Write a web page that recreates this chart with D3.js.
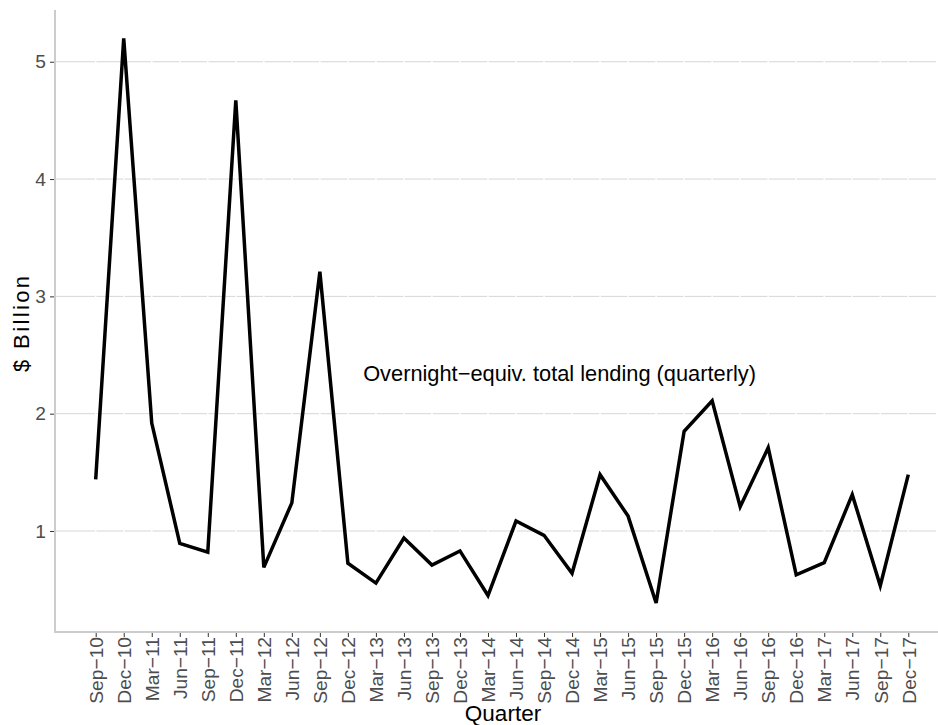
<!DOCTYPE html>
<html>
<head>
<meta charset="utf-8">
<script src="https://cdnjs.cloudflare.com/ajax/libs/d3/7.8.5/d3.min.js"></script>
<style>
  body { margin: 0; background: #fff; }
  text { font-family: "Liberation Sans", Arial, sans-serif; }
</style>
</head>
<body>
<script>
const width = 938,
  height = 725;

// quarters on the x axis
const quarters = [
  "Sep−10", "Dec−10", "Mar−11", "Jun−11", "Sep−11", "Dec−11", "Mar−12", "Jun−12",
  "Sep−12", "Dec−12", "Mar−13", "Jun−13", "Sep−13", "Dec−13", "Mar−14", "Jun−14",
  "Sep−14", "Dec−14", "Mar−15", "Jun−15", "Sep−15", "Dec−15", "Mar−16", "Jun−16",
  "Sep−16", "Dec−16", "Mar−17", "Jun−17", "Sep−17", "Dec−17"
];
// overnight-equivalent total lending, $ billion
const lending = [
  1.44, 5.20, 1.92, 0.895, 0.82, 4.67, 0.69, 1.24,
  3.21, 0.725, 0.556, 0.94, 0.71, 0.83, 0.45, 1.085,
  0.963, 0.64, 1.48, 1.127, 0.386, 1.85, 2.11, 1.207,
  1.71, 0.626, 0.73, 1.31, 0.533, 1.48
];
const yTicks = [1, 2, 3, 4, 5];
const annotation = "Overnight−equiv. total lending (quarterly)";

// panel box
const panel = { left: 55, right: 936, top: 10, bottom: 632 };

const x = d3.scalePoint().domain(quarters).range([95.7, 908.3]);
const y = d3.scaleLinear().domain([0.139, 5.441]).range([panel.bottom, panel.top]);

const svg = d3.select("body").append("svg")
  .attr("width", width)
  .attr("height", height);

// horizontal grid
svg.append("g")
  .selectAll("line")
  .data(yTicks)
  .join("line")
  .attr("x1", panel.left).attr("x2", panel.right)
  .attr("y1", d => y(d)).attr("y2", d => y(d))
  .attr("stroke", "#d6d6d6")
  .attr("stroke-width", 1);

// white vertical grid breaks the horizontal lines at each quarter
svg.append("g")
  .selectAll("line")
  .data(quarters)
  .join("line")
  .attr("x1", d => x(d)).attr("x2", d => x(d))
  .attr("y1", panel.top).attr("y2", panel.bottom)
  .attr("stroke", "#fff")
  .attr("stroke-width", 1.5);

// axes lines
svg.append("line")
  .attr("x1", panel.left).attr("x2", panel.left)
  .attr("y1", panel.top).attr("y2", panel.bottom + 1)
  .attr("stroke", "#cccccc").attr("stroke-width", 2);
svg.append("line")
  .attr("x1", panel.left - 1).attr("x2", panel.right + 2)
  .attr("y1", panel.bottom).attr("y2", panel.bottom)
  .attr("stroke", "#cccccc").attr("stroke-width", 2);

// y axis
const yAxis = d3.axisLeft(y).tickValues(yTicks).tickFormat(d3.format("d")).tickSize(4).tickPadding(4);
const gy = svg.append("g").attr("transform", `translate(${panel.left - 1},0)`).call(yAxis);
gy.select(".domain").remove();
gy.selectAll(".tick line").attr("stroke", "#333").attr("stroke-width", 1);
gy.selectAll(".tick text")
  .attr("fill", "#4d4d4d")
  .style("font-size", "19.2px")
  .style("font-family", "'Liberation Sans', Arial, sans-serif");

// x axis
const xAxis = d3.axisBottom(x).tickSize(4).tickPadding(5);
const gx = svg.append("g").attr("transform", `translate(0,${panel.bottom + 1})`).call(xAxis);
gx.select(".domain").remove();
gx.selectAll(".tick line").attr("stroke", "#333").attr("stroke-width", 1);
gx.selectAll(".tick text")
  .attr("fill", "#4d4d4d")
  .style("font-size", "19.2px")
  .style("font-family", "'Liberation Sans', Arial, sans-serif")
  .attr("text-anchor", "end")
  .attr("dy", "0.35em")
  .attr("transform", "translate(0,4) rotate(-90)")
  .attr("x", 0)
  .attr("y", 0);

// the series
const line = d3.line()
  .x((d, i) => x(quarters[i]))
  .y(d => y(d));

svg.append("path")
  .datum(lending)
  .attr("fill", "none")
  .attr("stroke", "#000")
  .attr("stroke-width", 3.5)
  .attr("stroke-linejoin", "miter")
  .attr("d", line);

// annotation, centred between Sep-14 and Dec-14 at about 2.34
svg.append("text")
  .attr("x", (x("Sep−14") + x("Dec−14")) / 2 + 1.5)
  .attr("y", y(2.34))
  .attr("dy", "0.35em")
  .attr("text-anchor", "middle")
  .style("font-size", "21.8px")
  .text(annotation);

// axis titles
svg.append("text")
  .attr("x", 503)
  .attr("y", 720.5)
  .attr("text-anchor", "middle")
  .style("font-size", "22.5px")
  .text("Quarter");

svg.append("text")
  .attr("transform", `translate(29,${(panel.top + panel.bottom) / 2 + 3}) rotate(-90)`)
  .attr("text-anchor", "middle")
  .attr("textLength", 96)
  .attr("lengthAdjust", "spacing")
  .style("font-size", "22px")
  .text("$ Billion");
</script>
</body>
</html>
